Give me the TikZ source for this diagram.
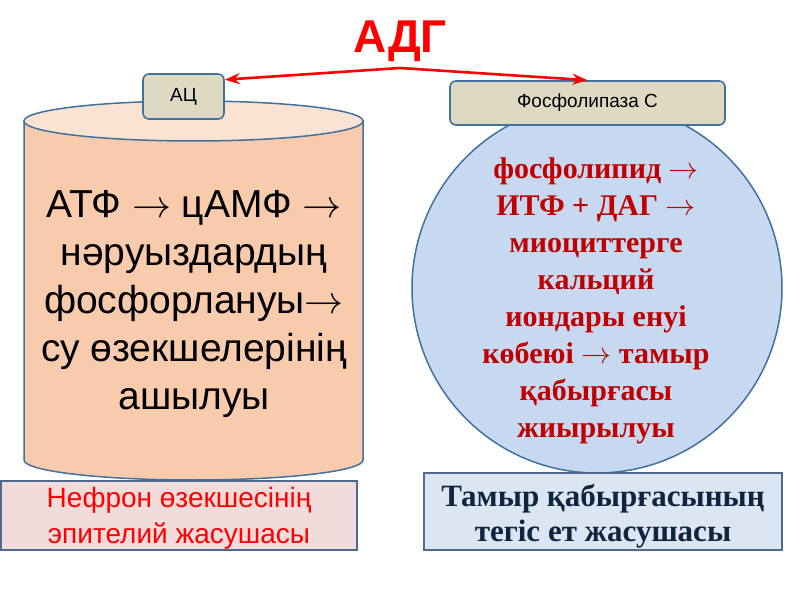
\RequirePackage{fix-cm}
\documentclass[tikz,border=0pt]{standalone}
\usepackage{fontspec}
\setmainfont{Liberation Serif}
\setsansfont{Liberation Sans}
\usetikzlibrary{arrows.meta,calc}
\definecolor{edgeblue}{HTML}{41719C}
\definecolor{tagfill}{HTML}{DDD9C3}
\definecolor{cylbody}{HTML}{F8CBAD}
\definecolor{cyltop}{HTML}{FBE3D4}
\definecolor{circfill}{HTML}{C6D9F1}
\definecolor{pinkfill}{HTML}{F2DCDB}
\definecolor{bluefill}{HTML}{DCE6F2}
\definecolor{darkred}{HTML}{C00000}
\definecolor{navy}{HTML}{0F243E}
\definecolor{boxedge}{HTML}{4F6A8F}
\newcommand{\rarr}{$\rightarrow$}
\begin{document}
\begin{tikzpicture}[x=1pt,y=1pt,
  tagbox/.style={draw=edgeblue, line width=1.6pt, fill=tagfill, rounded corners=6pt,
    font=\sffamily\fontsize{19}{22}\selectfont, inner sep=0pt},
  outline/.style={draw=edgeblue, line width=1.5pt},
  cylbox/.style={font=\sffamily\fontsize{39}{48}\selectfont, align=center, inner sep=0pt},
  circbox/.style={font=\bfseries\fontsize{30}{37}\selectfont, text=darkred, align=center, inner sep=0pt},
  cellbox/.style={draw=boxedge, line width=1.5pt, inner sep=0pt, align=center},
  redarrow/.style={draw=red, line width=2.6pt, {Stealth[length=15pt,width=11pt]}-{Stealth[length=15pt,width=11pt]}}
]
\useasboundingbox (0,0) rectangle (800,600);
\fill[white] (0,0) rectangle (800,600);

% cylinder
\path[outline, fill=cylbody] (24,479) -- (24,140)
  arc[start angle=180, end angle=360, x radius=169.5, y radius=20] -- (363,479) -- cycle;
\path[outline, fill=cyltop] (193.5,479) ellipse[x radius=169.5, y radius=20];
\node[cylbox] (cyltext) at (194,296) {АТФ \rarr{} цАМФ \rarr\\нәруыздардың\\фосфорлануы\rarr\\су өзекшелерінің\\ашылуы};

% circle
\node[circle, outline, fill=circfill, minimum size=370pt, inner sep=0pt] (circ) at (597,312) {};
\node[circbox] (circtext) at (596,299) {фосфолипид \rarr\\ИТФ + ДАГ \rarr\\миоциттерге\\кальций\\иондары енуі\\көбеюі \rarr{} тамыр\\қабырғасы\\жиырылуы};

% bottom boxes
\node[cellbox, fill=pinkfill, minimum width=356pt, minimum height=69pt] (nephron) at (179,84.5) {};
\node[text=red, font=\sffamily\fontsize{28}{36}\selectfont, align=center, inner sep=0pt] (nephtext) at (179,82) {Нефрон өзекшесінің\\эпителий жасушасы};
\node[cellbox, fill=bluefill, minimum width=358pt, minimum height=77pt] (vessel) at (603,88.5) {};
\node[text=navy, font=\bfseries\fontsize{31}{35}\selectfont, align=center, inner sep=0pt] (vesstext) at (603,84) {Тамыр қабырғасының\\тегіс ет жасушасы};

% tags
\node[tagbox, minimum width=81pt, minimum height=45pt] (ac) at (183.5,503.5) {АЦ};
\node[tagbox, minimum width=275pt, minimum height=44pt] (plc) at (587.5,497) {Фосфолипаза С};

% title and arrow
\node[anchor=base, text=red, font=\sffamily\bfseries\fontsize{46}{50}\selectfont, inner sep=0pt] (title) at (400,547) {АДГ};
\coordinate (apex) at (400,532);
\draw[redarrow] ([yshift=-6.5pt]ac.north east) -- (apex) -- (plc.north);
\end{tikzpicture}
\end{document}
